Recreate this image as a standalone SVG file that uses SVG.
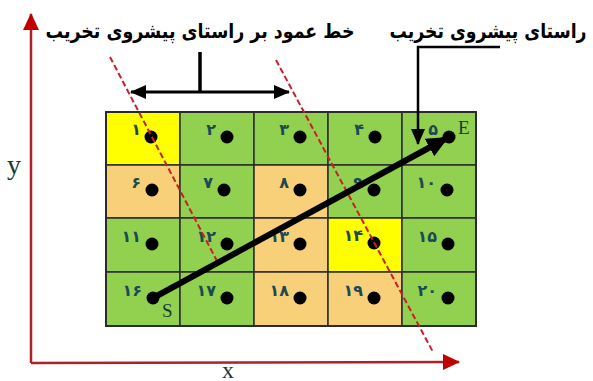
<svg xmlns="http://www.w3.org/2000/svg" width="593" height="381" viewBox="0 0 593 381">
<style>
.g{fill:#92D050}.o{fill:#F9D07A}.y{fill:#FFFF00}
.cell rect{stroke:#2b2b2b;stroke-width:1.5}
.dot{fill:#000}
.num{font-family:"DejaVu Sans",sans-serif;font-weight:bold;font-size:16px;fill:#1B4A52;text-anchor:end}
.lbl{font-family:"DejaVu Sans",sans-serif;font-weight:bold;font-size:20px;fill:#000;text-anchor:middle}
.ser{font-family:"Liberation Serif",serif;fill:#1a3a3a}
.dash{stroke:#C8202A;stroke-width:2;stroke-dasharray:6 3;fill:none}
</style>
<defs>
<marker id="ah" markerUnits="userSpaceOnUse" markerWidth="24" markerHeight="22" refX="20" refY="11" orient="auto"><path d="M0,1 L22,11 L0,21 Z" fill="#000"/></marker>
<marker id="ahs" markerUnits="userSpaceOnUse" markerWidth="16" markerHeight="16" refX="15" refY="8" orient="auto-start-reverse"><path d="M0,1 L16,8 L0,15 Z" fill="#000"/></marker>
<marker id="ar" markerUnits="userSpaceOnUse" markerWidth="18" markerHeight="18" refX="16" refY="9" orient="auto"><path d="M0,1 L17,9 L0,17 Z" fill="#C00000"/></marker>
</defs>

<g id="axes">
<path d="M31,363 L31,14" stroke="#B0202A" stroke-width="2.5" fill="none" marker-end="url(#ar)"/>
<path d="M31,363 L459,362" stroke="#B0202A" stroke-width="2.5" fill="none" marker-end="url(#ar)"/>
<text class="ser" x="7" y="174" font-size="28" fill="#222">y</text>
<text class="ser" x="222" y="378" font-size="24" fill="#222">x</text>
</g>

<g id="grid">
<g id="c1" class="cell"><rect class="y" x="106" y="112" width="74" height="53"/><circle class="dot" cx="151" cy="137" r="6.5"/><text class="num" x="141" y="135">۱</text></g>
<g id="c2" class="cell"><rect class="g" x="180" y="112" width="74" height="53"/><circle class="dot" cx="227" cy="137" r="6.5"/><text class="num" x="216" y="135">۲</text></g>
<g id="c3" class="cell"><rect class="g" x="254" y="112" width="74" height="53"/><circle class="dot" cx="300" cy="137" r="6.5"/><text class="num" x="289" y="135">۳</text></g>
<g id="c4" class="cell"><rect class="g" x="328" y="112" width="74" height="53"/><circle class="dot" cx="375" cy="137" r="6.5"/><text class="num" x="364" y="135">۴</text></g>
<g id="c5" class="cell"><rect class="g" x="402" y="112" width="74" height="53"/><circle class="dot" cx="449" cy="137" r="6.5"/><text class="num" x="438" y="135">۵</text></g>

<g id="c6" class="cell"><rect class="o" x="106" y="165" width="74" height="53"/><circle class="dot" cx="152" cy="190" r="6.5"/><text class="num" x="141" y="188">۶</text></g>
<g id="c7" class="cell"><rect class="g" x="180" y="165" width="74" height="53"/><circle class="dot" cx="224" cy="190" r="6.5"/><text class="num" x="213" y="188">۷</text></g>
<g id="c8" class="cell"><rect class="o" x="254" y="165" width="74" height="53"/><circle class="dot" cx="300" cy="190" r="6.5"/><text class="num" x="289" y="188">۸</text></g>
<g id="c9" class="cell"><rect class="g" x="328" y="165" width="74" height="53"/><circle class="dot" cx="374" cy="190" r="6.5"/><text class="num" x="363" y="188">۹</text></g>
<g id="c10" class="cell"><rect class="g" x="402" y="165" width="74" height="53"/><circle class="dot" cx="447" cy="190" r="6.5"/><text class="num" x="436" y="188">۱۰</text></g>

<g id="c11" class="cell"><rect class="g" x="106" y="218" width="74" height="54"/><circle class="dot" cx="152" cy="244" r="6.5"/><text class="num" x="141" y="242">۱۱</text></g>
<g id="c12" class="cell"><rect class="g" x="180" y="218" width="74" height="54"/><circle class="dot" cx="227" cy="244" r="6.5"/><text class="num" x="216" y="242">۱۲</text></g>
<g id="c13" class="cell"><rect class="o" x="254" y="218" width="74" height="54"/><circle class="dot" cx="300" cy="244" r="6.5"/><text class="num" x="289" y="242">۱۳</text></g>
<g id="c14" class="cell"><rect class="y" x="328" y="218" width="74" height="54"/><circle class="dot" cx="374" cy="243" r="6.5"/><text class="num" x="363" y="241">۱۴</text></g>
<g id="c15" class="cell"><rect class="g" x="402" y="218" width="74" height="54"/><circle class="dot" cx="448" cy="244" r="6.5"/><text class="num" x="437" y="242">۱۵</text></g>

<g id="c16" class="cell"><rect class="g" x="106" y="272" width="74" height="54"/><circle class="dot" cx="153" cy="298" r="6.5"/><text class="num" x="142" y="296">۱۶</text></g>
<g id="c17" class="cell"><rect class="g" x="180" y="272" width="74" height="54"/><circle class="dot" cx="227" cy="298" r="6.5"/><text class="num" x="216" y="296">۱۷</text></g>
<g id="c18" class="cell"><rect class="o" x="254" y="272" width="74" height="54"/><circle class="dot" cx="300" cy="298" r="6.5"/><text class="num" x="289" y="296">۱۸</text></g>
<g id="c19" class="cell"><rect class="o" x="328" y="272" width="74" height="54"/><circle class="dot" cx="374" cy="298" r="6.5"/><text class="num" x="363" y="296">۱۹</text></g>
<g id="c20" class="cell"><rect class="g" x="402" y="272" width="74" height="54"/><circle class="dot" cx="448" cy="298" r="6.5"/><text class="num" x="437" y="296">۲۰</text></g>
<rect x="106" y="112" width="370" height="214" fill="none" stroke="#2b2b2b" stroke-width="2"/>
</g>

<g id="connectors">
<line class="dash" x1="110" y1="57" x2="217" y2="261"/>
<line class="dash" x1="276" y1="60" x2="433" y2="352"/>
<line x1="153" y1="298" x2="447" y2="138" stroke="#000" stroke-width="6" marker-end="url(#ah)"/>
<path d="M500,47 L418,47 L418,144" stroke="#000" stroke-width="2.5" fill="none" marker-end="url(#ahs)"/>
<line x1="131" y1="92" x2="289" y2="92" stroke="#000" stroke-width="3" marker-start="url(#ahs)" marker-end="url(#ahs)"/>
<line x1="200" y1="52" x2="200" y2="92" stroke="#000" stroke-width="3.5"/>
</g>

<g id="labels">
<text class="ser" x="458" y="134" font-size="19">E</text>
<text class="ser" x="162" y="317" font-size="19">S</text>
<text class="lbl" x="488" y="38" textLength="197" lengthAdjust="spacingAndGlyphs">راستای پیشروی تخریب</text>
<text class="lbl" x="200" y="38" textLength="309" lengthAdjust="spacingAndGlyphs">خط عمود بر راستای پیشروی تخریب</text>
</g>
</svg>
